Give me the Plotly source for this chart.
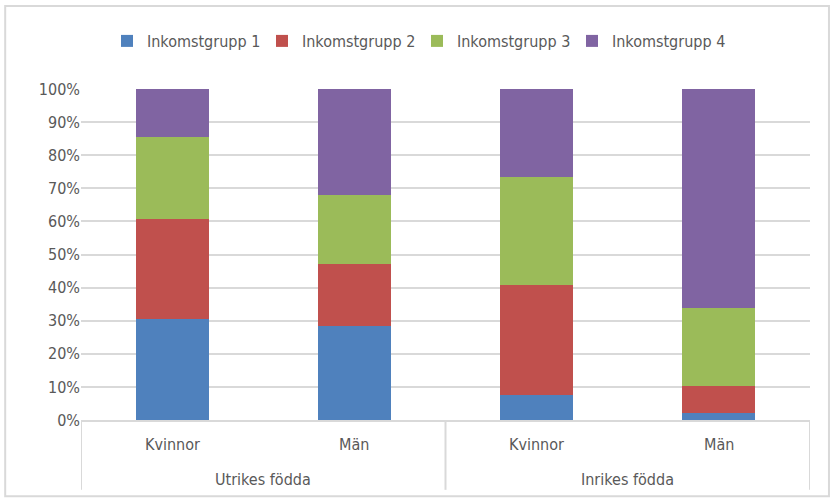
import plotly.graph_objects as go

# Andel per inkomstgrupp (%), per födelseland och kön
group_names = ["Utrikes födda", "Inrikes födda"]
groups = ["Utrikes födda", "Utrikes födda", "Inrikes födda", "Inrikes födda"]
sexes = ["Kvinnor", "Män", "Kvinnor", "Män"]
series_names = ["Inkomstgrupp 1", "Inkomstgrupp 2", "Inkomstgrupp 3", "Inkomstgrupp 4"]
grupp1 = [30.5, 28.4, 7.5, 2.1]
grupp2 = [30.2, 18.8, 33.3, 8.3]
grupp3 = [24.8, 20.8, 32.6, 23.4]
grupp4 = [14.5, 32.0, 26.6, 66.2]
colors = ["#4f81bd", "#c0504d", "#9bbb59", "#8064a2"]
y_ticks = [0, 10, 20, 30, 40, 50, 60, 70, 80, 90, 100]
y_ticklabels = [f"{v}%" for v in y_ticks]

FONT = "DejaVu Sans Condensed, Liberation Sans Narrow, sans-serif"
TEXT = "#595959"
LINE = "#d9d9d9"

positions = list(range(len(sexes)))

fig = go.Figure()
for name, vals, col in zip(series_names, [grupp1, grupp2, grupp3, grupp4], colors):
    fig.add_trace(go.Bar(
        x=positions, y=vals, name=name,
        marker=dict(color=col, line=dict(width=0)),
        customdata=[f"{g} – {s}" for g, s in zip(groups, sexes)],
        hovertemplate="%{customdata}<br>%{y:.1f}%<extra>" + name + "</extra>",
    ))

# two-level category labels under the axis
annotations = []
for p, s in zip(positions, sexes):
    annotations.append(dict(x=p, y=-0.0755, xref="x", yref="paper", text=s,
                            showarrow=False, yanchor="middle",
                            font=dict(family=FONT, size=16, color=TEXT)))
shapes = []
for g in group_names:
    idx = [p for p, gg in zip(positions, groups) if gg == g]
    annotations.append(dict(x=sum(idx) / len(idx), y=-0.181, xref="x", yref="paper",
                            text=g, showarrow=False, yanchor="middle",
                            font=dict(family=FONT, size=16, color=TEXT)))
# dividers between the groups
edges = sorted({min(p for p, gg in zip(positions, groups) if gg == g) - 0.5 for g in group_names}
               | {max(positions) + 0.5})
for e in edges:
    shapes.append(dict(type="line", xref="x", yref="paper", x0=e, x1=e, y0=0, y1=-0.211,
                       line=dict(color=LINE, width=2)))

# chart frame
shapes.append(dict(type="rect", xref="paper", yref="paper",
                   x0=-0.104, x1=1.026, y0=-0.23, y1=1.251,
                   line=dict(color=LINE, width=2)))

fig.update_layout(
    barmode="stack",
    bargap=0.6,
    width=834, height=500,
    margin=dict(l=81, r=24, t=89, b=80, autoexpand=False),
    paper_bgcolor="white", plot_bgcolor="white",
    font=dict(family=FONT, size=16, color=TEXT),
    legend=dict(orientation="h", x=0.5, xanchor="center", xref="container",
                y=0.918, yanchor="middle", yref="container",
                font=dict(size=16, color=TEXT), itemwidth=30,
                traceorder="normal", entrywidth=110),
    xaxis=dict(
        range=[-0.5, len(positions) - 0.5],
        showline=True, linecolor=LINE, linewidth=2,
        showticklabels=False, ticks="", showgrid=False, zeroline=False,
    ),
    yaxis=dict(
        range=[0, 100], tickvals=y_ticks, ticktext=y_ticklabels,
        showgrid=True, gridcolor=LINE, gridwidth=2, zeroline=False,
        tickfont=dict(size=16, color=TEXT), ticks="", ticklen=0,
    ),
    shapes=shapes,
    annotations=annotations,
)

fig.write_html("out.html")
